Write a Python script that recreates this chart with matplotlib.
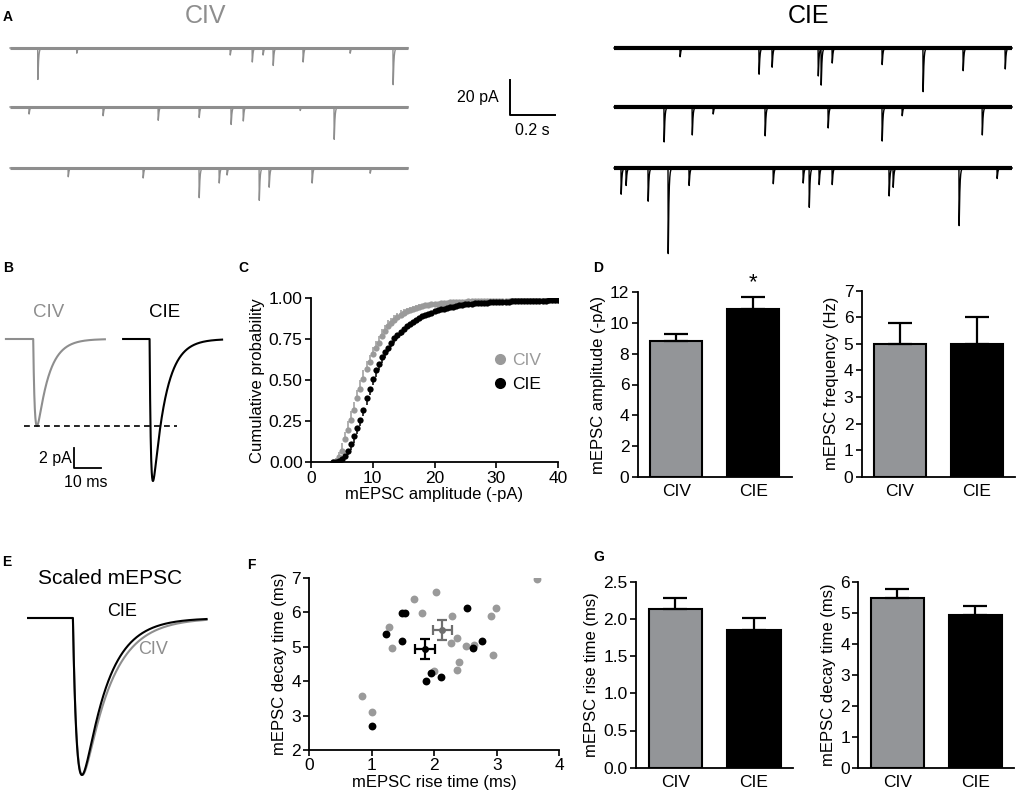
import numpy as np
import matplotlib
matplotlib.use("Agg")
import matplotlib.pyplot as plt
from matplotlib.lines import Line2D

W, H = 1016, 797
GREY = "#8e8e8e"
DOT_GREY = "#9a9a9a"
BAR_GREY = "#939598"
TICK_FS = 12.5
LABEL_FS = 12

plt.rcParams["font.family"] = ["Liberation Sans", "DejaVu Sans"]
plt.rcParams["font.size"] = 12
plt.rcParams["axes.linewidth"] = 1.3
plt.rcParams["xtick.major.width"] = 1.2
plt.rcParams["ytick.major.width"] = 1.2
plt.rcParams["xtick.major.size"] = 4
plt.rcParams["ytick.major.size"] = 4

groups = ["CIV", "CIE"]

# A: spontaneous events per sweep, (time in sweep [s], amplitude [pA])
civ_sweeps = [
    [(0.123, 18), (0.296, 3), (0.978, 4), (1.076, 8), (1.124, 4), (1.169, 10),
     (1.302, 8), (1.511, 3), (1.702, 21)],
    [(0.084, 4), (0.413, 5), (0.658, 7.6), (0.840, 6), (0.982, 10), (1.036, 8),
     (1.289, 2), (1.440, 18.5)],
    [(0.258, 5), (0.591, 5.7), (0.840, 17), (0.929, 8.6), (0.964, 4), (1.107, 18.5),
     (1.151, 11), (1.342, 8.6), (1.600, 3)],
]
cie_sweeps = [
    [(0.293, 5), (0.644, 15), (0.702, 11), (0.907, 16), (0.920, 21), (0.969, 8.6),
     (1.191, 9.5), (1.373, 25), (1.551, 13), (1.738, 12)],
    [(0.222, 20), (0.347, 16), (0.440, 4), (0.671, 16.5), (0.951, 12), (1.191, 19.5),
     (1.280, 5), (1.636, 16)],
    [(0.031, 15), (0.053, 10), (0.151, 19), (0.240, 49), (0.333, 10), (0.707, 9),
     (0.840, 8.6), (0.867, 22.5), (0.911, 9.5), (0.969, 9.5), (1.222, 16), (1.240, 11),
     (1.533, 33), (1.702, 6)],
]
sweep_len = 1.77  # s

# B: average mEPSC (CIV, CIE)
b_amp = [8.7, 14.2]      # pA
b_rise = [0.6, 0.5]      # ms
b_decay = [4.3, 4.6]     # ms

# C: cumulative amplitude distribution
amp_bins = np.arange(3.5, 40.01, 0.5)
civ_cum = [0.00, 0.01, 0.03, 0.07, 0.14, 0.20, 0.26, 0.32, 0.39, 0.45,
           0.51, 0.57, 0.61, 0.66, 0.70, 0.73, 0.77, 0.80, 0.83, 0.85,
           0.87, 0.885, 0.90, 0.91, 0.92, 0.93, 0.937, 0.943, 0.948, 0.953,
           0.957, 0.960, 0.963, 0.966, 0.968, 0.970, 0.972, 0.974, 0.975, 0.976,
           0.977, 0.978, 0.979, 0.980, 0.981, 0.981, 0.982, 0.982, 0.983, 0.983,
           0.984, 0.984, 0.985, 0.985, 0.985, 0.986, 0.986, 0.986, 0.987, 0.987,
           0.987, 0.987, 0.988, 0.988, 0.988, 0.988, 0.989, 0.989, 0.989, 0.989,
           0.989, 0.990, 0.990, 0.990]
cie_cum = [0.00, 0.003, 0.01, 0.02, 0.04, 0.07, 0.11, 0.16, 0.21, 0.26,
           0.32, 0.39, 0.45, 0.51, 0.56, 0.60, 0.64, 0.67, 0.70, 0.73,
           0.755, 0.775, 0.795, 0.815, 0.83, 0.845, 0.858, 0.87, 0.88, 0.89,
           0.898, 0.906, 0.913, 0.92, 0.926, 0.932, 0.937, 0.942, 0.946, 0.950,
           0.954, 0.957, 0.960, 0.963, 0.965, 0.967, 0.969, 0.971, 0.972, 0.973,
           0.974, 0.975, 0.976, 0.977, 0.978, 0.979, 0.980, 0.980, 0.981, 0.982,
           0.982, 0.983, 0.983, 0.984, 0.984, 0.985, 0.985, 0.986, 0.986, 0.986,
           0.987, 0.987, 0.987, 0.988]
civ_cum_err = [0.0, 0.015, 0.03, 0.045, 0.045, 0.05, 0.05, 0.05, 0.05, 0.05,
               0.05, 0.05, 0.045, 0.045, 0.04, 0.04, 0.04, 0.035, 0.035, 0.03,
               0.03, 0.028, 0.026, 0.024, 0.022, 0.02, 0.018, 0.016, 0.015, 0.014,
               0.013, 0.012, 0.011, 0.01, 0.01, 0.009, 0.009, 0.008, 0.008, 0.008,
               0.007, 0.007, 0.006, 0.006] + [0.005] * 30
cie_cum_err = [0.0, 0.004, 0.01, 0.015, 0.02, 0.028, 0.035, 0.04, 0.04, 0.04,
               0.04, 0.04, 0.04, 0.04, 0.038, 0.036, 0.034, 0.032, 0.03, 0.028,
               0.026, 0.025, 0.024, 0.022, 0.02, 0.019, 0.018, 0.017, 0.016, 0.015,
               0.014, 0.013, 0.012, 0.012, 0.011, 0.011, 0.01, 0.01, 0.009, 0.009,
               0.008, 0.008, 0.007, 0.007] + [0.005] * 30

# D: amplitude and frequency (mean, SEM)
amp_mean = [8.8, 10.85]
amp_sem = [0.45, 0.78]
freq_mean = [5.0, 5.0]
freq_sem = [0.77, 1.0]

# E: scaled average mEPSC (CIV, CIE)
e_rise = [0.8, 0.8]
e_decay = [5.0, 4.4]

# F: rise vs decay per cell
civ_rise = [0.85, 1.00, 1.27, 1.33, 1.67, 1.81, 2.03, 2.00, 2.29, 2.27,
            2.37, 2.39, 2.36, 2.50, 2.64, 2.90, 2.98, 2.94, 3.64]
civ_decay = [3.57, 3.11, 5.58, 4.97, 6.37, 5.98, 6.58, 4.29, 5.89, 5.11,
             5.24, 4.54, 4.32, 5.02, 5.05, 5.89, 6.13, 4.75, 6.96]
cie_rise = [1.00, 1.22, 1.49, 1.53, 1.49, 1.86, 1.95, 2.10, 2.52, 2.62, 2.76]
cie_decay = [2.71, 5.37, 5.98, 5.98, 5.16, 4.00, 4.22, 4.13, 6.11, 4.97, 5.16]

# G: kinetics (mean, SEM)
rise_mean = [2.13, 1.85]
rise_sem = [0.15, 0.16]
decay_mean = [5.48, 4.94]
decay_sem = [0.30, 0.29]


def px_rect(l, t, r, b):
    return [l / W, 1 - b / H, (r - l) / W, (b - t) / H]


def epsc(t, onset, amp, tr, td):
    s = np.clip(t - onset, 0, None)
    tp = tr * td / (td - tr) * np.log(td / tr)
    peak = np.exp(-tp / td) - np.exp(-tp / tr)
    return -amp * (np.exp(-s / td) - np.exp(-s / tr)) / peak


def bare(ax):
    ax.set_axis_off()


def style(ax):
    ax.spines["top"].set_visible(False)
    ax.spines["right"].set_visible(False)
    ax.tick_params(direction="out", labelsize=TICK_FS, pad=2)


fig = plt.figure(figsize=(W / 100, H / 100), dpi=100)

# ---------- A
axA = fig.add_axes(px_rect(0, 0, W, 270))
bare(axA)
sx, sy = 225.0, 1.75  # px per s, px per pA
axA.set_xlim(0, W / sx)
axA.set_ylim(-270 / sy, 0)
t_sw = np.arange(0, sweep_len, 0.00025)
row_base = [-48 / sy, -107 / sy, -168 / sy]
for sweeps, x0, col, band in [(civ_sweeps, 10 / sx, GREY, 2.2), (cie_sweeps, 614 / sx, "black", 3.0)]:
    for base, events in zip(row_base, sweeps):
        y = np.zeros_like(t_sw)
        for t0, a in events:
            y += epsc(t_sw, t0, a, 0.0004, 0.003)
        axA.plot([x0, x0 + sweep_len], [base, base], color=col, lw=band, solid_capstyle="butt")
        axA.plot(x0 + t_sw, base + y, color=col, lw=1.0)
axA.text(205 / sx, -16 / sy, "CIV", color=GREY, fontsize=18, ha="center", va="center")
axA.text(808 / sx, -16 / sy, "CIE", color="black", fontsize=18, ha="center", va="center")
bx, by = 510 / sx, -115 / sy
axA.plot([bx, bx, bx + 0.2], [by + 20, by, by], color="black", lw=1.4)
axA.text(bx - 0.05, by + 10, "20 pA", ha="right", va="center", fontsize=11.5)
axA.text(bx + 0.1, by - 9, "0.2 s", ha="center", va="center", fontsize=11.5)

# ---------- B
axB = fig.add_axes(px_rect(0, 290, 230, 500))
bare(axB)
bxs, bys = 2.7, 10.0
axB.set_xlim(0, 230 / bxs)
axB.set_ylim(-(500 - 339) / bys, (339 - 290) / bys)
t_b = np.arange(0, 36.7, 0.05)
for i, (start, onset, col) in enumerate([(2.2, 12.3, GREY), (45.6, 55.4, "black")]):
    axB.plot(start + t_b, epsc(start + t_b, onset, b_amp[i], b_rise[i], b_decay[i]), color=col, lw=1.5)
axB.plot([8.9, 65.6], [-b_amp[0], -b_amp[0]], color="black", lw=1.2, ls=(0, (3.5, 2.5)))
axB.text(17.9, 2.7, "CIV", color=GREY, fontsize=13.5, ha="center", va="center")
axB.text(61.0, 2.7, "CIE", color="black", fontsize=13.5, ha="center", va="center")
axB.plot([27.4, 27.4, 37.4], [-10.9, -12.9, -12.9], color="black", lw=1.3)
axB.text(26.6, -11.9, "2 pA", ha="right", va="center", fontsize=11.5)
axB.text(31.9, -14.3, "10 ms", ha="center", va="center", fontsize=11.5)

# ---------- C
axC = fig.add_axes(px_rect(311, 298.3, 558, 462.3))
style(axC)
axC.errorbar(amp_bins, civ_cum, yerr=[np.zeros(len(civ_cum_err)), civ_cum_err], fmt="o",
             color=DOT_GREY, ms=4.5, mew=0, elinewidth=1.1, capsize=2.2, capthick=1.1)
axC.errorbar(amp_bins, cie_cum, yerr=[cie_cum_err, np.zeros(len(cie_cum_err))], fmt="o",
             color="black", ms=4.5, mew=0, elinewidth=1.1, capsize=2.2, capthick=1.1)
axC.set_xlim(0, 40)
axC.set_ylim(0, 1.0)
axC.set_xticks([0, 10, 20, 30, 40])
axC.set_yticks([0, 0.25, 0.5, 0.75, 1.0])
axC.set_yticklabels(["0.00", "0.25", "0.50", "0.75", "1.00"])
axC.set_xlabel("mEPSC amplitude (-pA)", fontsize=LABEL_FS, labelpad=1)
axC.set_ylabel("Cumulative probability", fontsize=LABEL_FS, labelpad=3)
for s in axC.spines.values():
    s.set_clip_on(False)
handles = [Line2D([], [], ls="none", marker="o", ms=8, mew=0, color=DOT_GREY),
           Line2D([], [], ls="none", marker="o", ms=8, mew=0, color="black")]
leg = axC.legend(handles, groups, loc="center left", bbox_to_anchor=(0.66, 0.55), frameon=False,
                 handletextpad=0.1, labelspacing=0.5, fontsize=12.5, handlelength=1.2)
leg.get_texts()[0].set_color(DOT_GREY)


def draw_bars(rect, means, sems, ymax, yticks, ylabel, ticklabels=None, star=False):
    ax = fig.add_axes(px_rect(*rect))
    style(ax)
    ax.bar([0, 1], means, width=0.68, color=[BAR_GREY, "black"], edgecolor="black", linewidth=1.5, zorder=2)
    ax.errorbar([0, 1], means, yerr=[[0, 0], sems], fmt="none", ecolor="black",
                elinewidth=1.6, capsize=8.5, capthick=1.6, zorder=3)
    ax.set_xlim(-0.5, 1.5)
    ax.set_ylim(0, ymax)
    ax.set_yticks(yticks)
    if ticklabels is not None:
        ax.set_yticklabels(ticklabels)
    ax.set_xticks([0, 1])
    ax.set_xticklabels(groups, fontsize=TICK_FS)
    ax.tick_params(axis="x", length=0, pad=5)
    ax.set_ylabel(ylabel, fontsize=LABEL_FS, labelpad=3)
    if star:
        ax.text(1, means[1] + sems[1] + 0.3, "*", ha="center", va="bottom", fontsize=16, clip_on=False)
    return ax


# ---------- D
draw_bars((637.7, 291.7, 791.7, 477.3), amp_mean, amp_sem, 12, range(0, 13, 2),
          "mEPSC amplitude (-pA)", star=True)
draw_bars((861.7, 290.7, 1015, 476.7), freq_mean, freq_sem, 7, range(0, 8),
          "mEPSC frequency (Hz)")

# ---------- E
axE = fig.add_axes(px_rect(0, 560, 240, 797))
bare(axE)
exs, eys = 5.4, 157.0
axE.set_xlim(0, 240 / exs)
axE.set_ylim(-(797 - 618) / eys, (618 - 560) / eys)
t_e = np.arange(5.2, 38.3, 0.05)
axE.plot(t_e, epsc(t_e, 13.5, 1.0, e_rise[0], e_decay[0]), color=GREY, lw=1.5)
axE.plot(t_e, epsc(t_e, 13.5, 1.0, e_rise[1], e_decay[1]), color="black", lw=1.5)
axE.text(110 / exs, (618 - 578) / eys, "Scaled mEPSC", fontsize=15, ha="center", va="center")
axE.text(122 / exs, (618 - 612) / eys, "CIE", fontsize=13, ha="center", va="center")
axE.text(153 / exs, (618 - 650) / eys, "CIV", fontsize=13, color=GREY, ha="center", va="center")

# ---------- F
axF = fig.add_axes(px_rect(309.3, 577.7, 559.3, 750))
style(axF)
axF.scatter(civ_rise, civ_decay, s=32, color=DOT_GREY, linewidths=0, zorder=2)
axF.scatter(cie_rise, cie_decay, s=32, color="black", linewidths=0, zorder=3)
axF.errorbar([rise_mean[0]], [decay_mean[0]], xerr=[rise_sem[0]], yerr=[decay_sem[0]], fmt="o",
             color="#6e6e6e", ms=4, elinewidth=1.6, capsize=3.5, capthick=1.6, zorder=4)
axF.errorbar([rise_mean[1]], [decay_mean[1]], xerr=[rise_sem[1]], yerr=[decay_sem[1]], fmt="o",
             color="black", ms=4, elinewidth=1.6, capsize=3.5, capthick=1.6, zorder=4)
axF.set_xlim(0, 4)
axF.set_ylim(2, 7)
axF.set_xticks([0, 1, 2, 3, 4])
axF.set_yticks(range(2, 8))
axF.set_xlabel("mEPSC rise time (ms)", fontsize=LABEL_FS, labelpad=1)
axF.set_ylabel("mEPSC decay time (ms)", fontsize=LABEL_FS, labelpad=3)

# ---------- G
draw_bars((636, 581.7, 793.3, 767.7), rise_mean, rise_sem, 2.5, [0, 0.5, 1.0, 1.5, 2.0, 2.5],
          "mEPSC rise time (ms)", ticklabels=["0.0", "0.5", "1.0", "1.5", "2.0", "2.5"])
draw_bars((858.3, 582.3, 1014, 767.7), decay_mean, decay_sem, 6, range(0, 7),
          "mEPSC decay time (ms)")

# panel letters
for letter, x, y in [("A", 3, 17), ("B", 3, 268), ("C", 238, 268), ("D", 593, 268),
                     ("E", 2, 562), ("F", 247, 565), ("G", 593, 557)]:
    fig.text(x / W, 1 - y / H, letter, fontsize=10, fontweight="bold", ha="left", va="center")

fig.savefig("out.png", dpi=100)
